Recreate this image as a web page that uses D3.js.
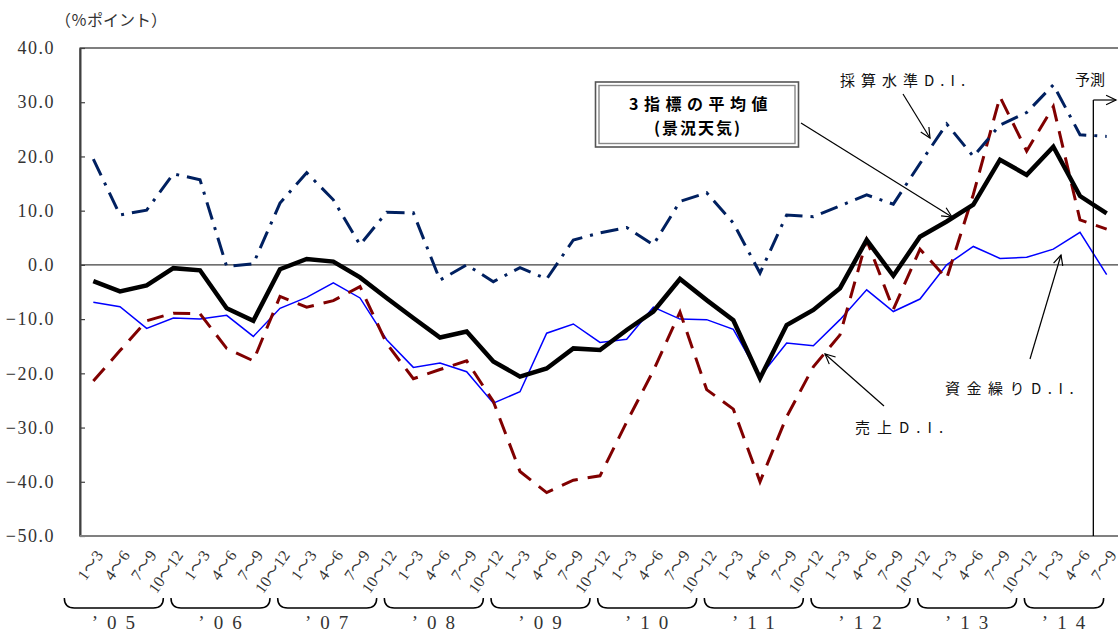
<!DOCTYPE html>
<html>
<head>
<meta charset="utf-8">
<script src="https://cdn.jsdelivr.net/npm/d3@7"></script>
<style>
	body { margin: 0; background: #fff; }
</style>
</head>
<body>
<div id="chart"></div>
<script>
(function () {
	// data
	var years = ["’05", "’06", "’07", "’08", "’09", "’10", "’11", "’12", "’13", "’14"];
	var quarters = ["1～3", "4～6", "7～9", "10～12"];
	var quarterCounts = [4, 4, 4, 4, 4, 4, 4, 4, 4, 3];
	var yTicks = [-50, -40, -30, -20, -10, 0, 10, 20, 30, 40];

	// 採算水準D.I.
	var saisanDI = [19.5, 9.2, 10.1, 16.8, 15.7, -0.3, 0.2, 11.4, 17.0, 12.0, 3.7, 9.7,
		9.6, -2.8, 0.0, -3.1, -0.5, -2.6, 4.6, 5.9, 6.9, 3.7, 11.7, 13.3,
		7.7, -1.5, 9.2, 8.9, 10.9, 12.9, 11.2, 18.7, 26.0, 20.0, 25.8, 28.1,
		33.2, 24.0, 23.7];
	// 売上D.I.
	var uriageDI = [-21.4, -15.8, -10.3, -8.9, -9.0, -15.4, -17.7, -5.8, -7.8, -6.6, -4.0, -14.5,
		-21.0, -19.3, -17.7, -25.2, -38.1, -42.0, -39.7, -38.9, -29.0, -19.5, -8.7, -23.0,
		-26.6, -40.0, -28.0, -18.8, -12.9, 4.6, -8.2, 2.9, -2.5, 13.0, 31.0, 21.0,
		29.2, 8.3, 6.6];
	// 資金繰りD.I.
	var shikinguriDI = [-6.9, -7.7, -11.7, -9.8, -10.0, -9.3, -13.2, -8.0, -6.0, -3.3, -6.1, -13.8,
		-18.9, -18.1, -19.7, -25.5, -23.4, -12.6, -10.9, -14.3, -13.7, -7.8, -10.0, -10.1,
		-11.9, -20.6, -14.4, -14.9, -10.1, -4.6, -8.6, -6.3, 0.0, 3.4, 1.2, 1.4,
		2.9, 6.0, -1.8];
	// 3指標の平均値（景況天気）
	var heikin = [-3.0, -4.9, -3.8, -0.6, -1.0, -8.0, -10.3, -0.8, 1.1, 0.6, -2.3, -6.1,
		-9.8, -13.4, -12.3, -17.8, -20.6, -19.1, -15.4, -15.7, -12.0, -8.6, -2.6, -6.5,
		-10.2, -20.9, -11.1, -8.3, -4.3, 4.6, -2.0, 5.2, 8.0, 11.1, 19.4, 16.6,
		21.8, 12.7, 9.5];

	var svgwidth = 1118;
	var svgheight = 633;
	var left = 80, top = 48, bottom = 536, right = 1120;

	var serif = "Liberation Serif, DejaVu Serif, Noto Sans CJK JP, serif";
	var gothic = "Noto Sans CJK JP, sans-serif";

	var svg = d3.select("#chart")
		.append("svg")
		.attr("width", svgwidth)
		.attr("height", svgheight);

	// category labels and year groups
	var labels = [];
	var groups = [];
	years.forEach(function (yr, k) {
		var first = labels.length;
		for (var q = 0; q < quarterCounts[k]; q++) labels.push(quarters[q]);
		groups.push({ year: yr, first: first, last: labels.length - 1, n: quarterCounts[k] });
	});

	var xScale = d3.scaleBand().domain(d3.range(labels.length)).range([left, right]);
	var yScale = d3.scaleLinear().domain([-50, 40]).range([bottom, top]);
	var cx = function (i) { return xScale(i) + xScale.bandwidth() / 2; };

	// plot frame
	svg.append("rect")
		.attr("x", left).attr("y", top)
		.attr("width", right - left).attr("height", bottom - top)
		.attr("fill", "none").attr("stroke", "#000").attr("stroke-width", 1);

	// zero line
	svg.append("line")
		.attr("x1", left).attr("x2", right)
		.attr("y1", yScale(0)).attr("y2", yScale(0))
		.attr("stroke", "#404040").attr("stroke-width", 1.3);

	// y axis
	var yAxis = svg.append("g")
		.attr("transform", "translate(" + left + ",0)")
		.call(d3.axisLeft(yScale).tickValues(yTicks).tickSizeInner(-5).tickSizeOuter(0).tickPadding(25)
			.tickFormat(function (d) { return d3.format(".1f")(d); }));
	yAxis.attr("font-family", serif).attr("font-size", 18);
	yAxis.select(".domain").attr("stroke", "#404040").attr("stroke-width", 2);
	yAxis.selectAll(".tick line").attr("stroke", "#404040").attr("stroke-width", 1.2);
	yAxis.selectAll(".tick text")
		.attr("font-family", serif).attr("font-size", 18)
		.attr("letter-spacing", 1.5)
		.attr("fill", "#333");

	svg.append("text")
		.attr("x", 55).attr("y", 26)
		.attr("font-family", gothic).attr("font-size", 16).attr("fill", "#333")
		.text("（％ポイント）");

	// x axis
	svg.append("line")
		.attr("x1", left).attr("x2", right)
		.attr("y1", bottom).attr("y2", bottom)
		.attr("stroke", "#808080").attr("stroke-width", 2);

	var xAxis = svg.append("g")
		.attr("transform", "translate(0," + bottom + ")")
		.call(d3.axisBottom(xScale).tickSize(0).tickFormat(function (i) { return labels[i]; }));
	xAxis.attr("font-family", serif).attr("font-size", 16);
	xAxis.select(".domain").remove();
	xAxis.selectAll(".tick text")
		.attr("x", 0).attr("y", 0).attr("dy", "0.35em")
		.attr("transform", "translate(6,16) rotate(-55)")
		.attr("text-anchor", "end")
		.attr("font-family", serif).attr("font-size", 16)
		.attr("fill", "#333");

	// year braces
	groups.forEach(function (gr) {
		var x0 = cx(gr.first) - 29;
		var x1 = cx(gr.last) - (gr.n === 4 ? 10 : 3);
		var yt = 598, yb = 608;
		svg.append("path")
			.attr("d", "M" + x0 + "," + yt + " Q" + x0 + "," + yb + " " + (x0 + 10) + "," + yb +
				" L" + (x1 - 10) + "," + yb + " Q" + x1 + "," + yb + " " + x1 + "," + yt)
			.attr("fill", "none").attr("stroke", "#000").attr("stroke-width", 1.5);
		svg.append("text")
			.attr("x", (x0 + x1) / 2 + 4).attr("y", 629)
			.attr("text-anchor", "middle")
			.attr("font-family", serif).attr("font-size", 19)
			.attr("letter-spacing", 9).attr("fill", "#333")
			.text(gr.year);
	});

	// series
	var series = [
		{ values: shikinguriDI, color: "#0000ff", width: 1.5, dash: null },
		{ values: uriageDI, color: "#800000", width: 3, dash: "17,10" },
		{ values: saisanDI, color: "#002060", width: 3, dash: "18,8,3,8" },
		{ values: heikin, color: "#000000", width: 4.5, dash: null }
	];

	var line = d3.line()
		.x(function (d, i) { return cx(i); })
		.y(function (d) { return yScale(d); });

	svg.selectAll("path.series")
		.data(series)
		.enter()
		.append("path")
		.attr("class", "series")
		.attr("d", function (s) { return line(s.values); })
		.attr("fill", "none")
		.attr("stroke", function (s) { return s.color; })
		.attr("stroke-width", function (s) { return s.width; })
		.attr("stroke-dasharray", function (s) { return s.dash; })
		.attr("stroke-linejoin", "miter");

	// annotations
	function arrow(x1, y1, x2, y2) {
		svg.append("line")
			.attr("x1", x1).attr("y1", y1).attr("x2", x2).attr("y2", y2)
			.attr("stroke", "#000").attr("stroke-width", 1.2);
		var a = Math.atan2(y2 - y1, x2 - x1), L = 11, s = 0.45;
		svg.append("path")
			.attr("d", "M" + (x2 - L * Math.cos(a - s)) + "," + (y2 - L * Math.sin(a - s)) +
				" L" + x2 + "," + y2 +
				" L" + (x2 - L * Math.cos(a + s)) + "," + (y2 - L * Math.sin(a + s)))
			.attr("fill", "none").attr("stroke", "#000").attr("stroke-width", 1.2);
	}

	function note(x, y, txt, spacing) {
		svg.append("text")
			.attr("x", x).attr("y", y)
			.attr("font-family", gothic).attr("font-size", 15)
			.attr("letter-spacing", spacing)
			.attr("fill", "#111")
			.text(txt);
	}

	// legend box
	svg.append("rect")
		.attr("x", 595.5).attr("y", 82).attr("width", 203).attr("height", 65)
		.attr("fill", "#fff").attr("stroke", "#555").attr("stroke-width", 1.6);
	svg.append("rect")
		.attr("x", 599).attr("y", 85.5).attr("width", 196).attr("height", 58)
		.attr("fill", "none").attr("stroke", "#888").attr("stroke-width", 1.4);
	svg.append("text")
		.attr("x", 701).attr("y", 110).attr("text-anchor", "middle")
		.attr("font-family", gothic).attr("font-size", 16).attr("font-weight", "bold")
		.attr("letter-spacing", 5.5)
		.text("3指標の平均値");
	svg.append("text")
		.attr("x", 698).attr("y", 134).attr("text-anchor", "middle")
		.attr("font-family", gothic).attr("font-size", 16).attr("font-weight", "bold")
		.attr("letter-spacing", 2)
		.text("(景況天気)");
	arrow(801, 123, 952, 217);

	note(840, 86, "採算水準D.I.", 6);
	arrow(903, 94, 930, 138);

	note(945, 394, "資金繰りD.I.", 6.5);
	arrow(1030, 359, 1061, 255);

	note(855, 433, "売上D.I.", 7);
	arrow(884, 406, 825, 354);

	// forecast marker
	var fx = xScale(labels.length - 1);
	svg.append("line")
		.attr("x1", fx).attr("x2", fx).attr("y1", 100).attr("y2", bottom)
		.attr("stroke", "#000").attr("stroke-width", 1.3);
	arrow(fx, 100, 1116, 100);
	note(1075, 85, "予測", 0);
})();
</script>
</body>
</html>
